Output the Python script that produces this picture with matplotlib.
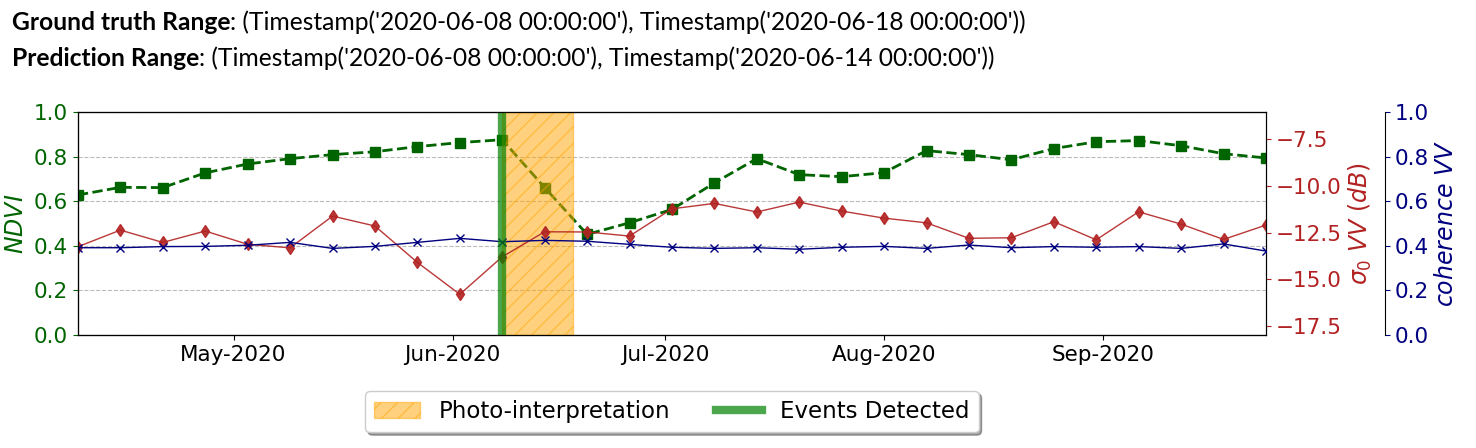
import numpy as np
import pandas as pd
import matplotlib
matplotlib.use("Agg")
import matplotlib.pyplot as plt
import matplotlib.dates as mdates
from matplotlib.patches import Patch
from matplotlib.lines import Line2D

# acquisition dates (6-day revisit)
dates = pd.to_datetime([
    "2020-04-09", "2020-04-15", "2020-04-21", "2020-04-27", "2020-05-03",
    "2020-05-09", "2020-05-15", "2020-05-21", "2020-05-27", "2020-06-02",
    "2020-06-08", "2020-06-14", "2020-06-20", "2020-06-26", "2020-07-02",
    "2020-07-08", "2020-07-14", "2020-07-20", "2020-07-26", "2020-08-01",
    "2020-08-07", "2020-08-13", "2020-08-19", "2020-08-25", "2020-08-31",
    "2020-09-06", "2020-09-12", "2020-09-18", "2020-09-24",
])

ndvi = [0.629, 0.663, 0.662, 0.728, 0.768, 0.792, 0.810, 0.823, 0.846, 0.864,
        0.877, 0.662, 0.452, 0.504, 0.564, 0.683, 0.792, 0.720, 0.711, 0.729,
        0.828, 0.810, 0.787, 0.837, 0.868, 0.873, 0.850, 0.814, 0.795]

sigma_vv = [-13.25, -12.36, -13.02, -12.41, -13.12, -13.31, -11.61, -12.14, -14.09, -15.80,
            -13.79, -12.45, -12.46, -12.68, -11.22, -10.93, -11.39, -10.86, -11.34, -11.72,
            -11.97, -12.80, -12.77, -11.91, -12.88, -11.38, -12.04, -12.86, -12.09]

coherence = [0.392, 0.392, 0.397, 0.398, 0.403, 0.416, 0.389, 0.398, 0.416, 0.434,
             0.419, 0.425, 0.421, 0.407, 0.394, 0.389, 0.392, 0.385, 0.394, 0.398,
             0.389, 0.404, 0.392, 0.397, 0.394, 0.397, 0.389, 0.409, 0.377]

gt_range = (pd.Timestamp("2020-06-08"), pd.Timestamp("2020-06-18"))
pred_range = (pd.Timestamp("2020-06-08"), pd.Timestamp("2020-06-14"))
events = [pd.Timestamp("2020-06-08")]

fs = 15.5

fig = plt.figure(figsize=(14.76, 4.48), dpi=100)
ax1 = fig.add_axes([0.0528, 0.2522, 0.8049, 0.4971])

# NDVI
ax1.plot(dates, ndvi, color="darkgreen", linestyle="--", linewidth=2,
         marker="s", markersize=6.5)
ax1.set_ylim(0, 1)
ax1.set_ylabel("$NDVI$", color="darkgreen", fontsize=17)
ax1.tick_params(axis="y", colors="darkgreen", labelsize=fs)
ax1.tick_params(axis="x", labelsize=fs)
ax1.grid(axis="y", linestyle="--", color="#bbbbbb", linewidth=0.8)
ax1.set_xlim(dates[0], dates[-1])
ax1.xaxis.set_major_locator(mdates.MonthLocator())
ax1.xaxis.set_major_formatter(mdates.DateFormatter("%b-%Y"))

# sigma0 VV
ax2 = ax1.twinx()
ax2.plot(dates, sigma_vv, color="firebrick", linewidth=1, alpha=0.9,
         marker="d", markersize=6.5)
ax2.set_ylim(-17.98, -6.05)
ax2.set_yticks([-7.5, -10.0, -12.5, -15.0, -17.5])
ax2.set_ylabel(r"$\sigma_0$ $VV$ $(dB)$", color="firebrick", fontsize=17)
ax2.tick_params(axis="y", colors="firebrick", labelsize=fs)
ax2.axvspan(gt_range[0], gt_range[1], color="orange", alpha=0.5, hatch="//")

# coherence VV
ax3 = ax1.twinx()
ax3.spines["right"].set_position(("axes", 1.1))
ax3.plot(dates, coherence, color="navy", linewidth=1, marker="x", markersize=6)
ax3.set_ylim(0, 1)
ax3.set_ylabel("$coherence$ $VV$", color="navy", fontsize=17)
ax3.tick_params(axis="y", colors="navy", labelsize=fs)
for ev in events:
    ax3.axvline(ev, color="green", alpha=0.7, linewidth=6)

handles = [
    Patch(facecolor="orange", edgecolor="orange", alpha=0.5, hatch="//",
          label="Photo-interpretation"),
    Line2D([0], [0], color="green", alpha=0.7, linewidth=6, label="Events Detected"),
]
ax3.legend(handles=handles, loc="upper center", bbox_to_anchor=(0.5, -0.2),
           ncol=2, fontsize=16.5, shadow=True, columnspacing=2.0)

# header text
hfont = ["Lato", "DejaVu Sans"]
hs = 17.7
t1 = fig.text(0.008, 1 - 34 / 448, "Ground truth Range", fontsize=hs,
              fontweight="bold", family=hfont, va="bottom")
ax1.annotate(f": ({gt_range[0]!r}, {gt_range[1]!r})", xy=(1, 0), xycoords=t1,
             fontsize=hs, family=hfont, va="bottom", ha="left", annotation_clip=False)
t2 = fig.text(0.008, 1 - 70 / 448, "Prediction Range", fontsize=hs,
              fontweight="bold", family=hfont, va="bottom")
ax1.annotate(f": ({pred_range[0]!r}, {pred_range[1]!r})", xy=(1, 0), xycoords=t2,
             fontsize=hs, family=hfont, va="bottom", ha="left", annotation_clip=False)

fig.savefig("out.png", dpi=100)
